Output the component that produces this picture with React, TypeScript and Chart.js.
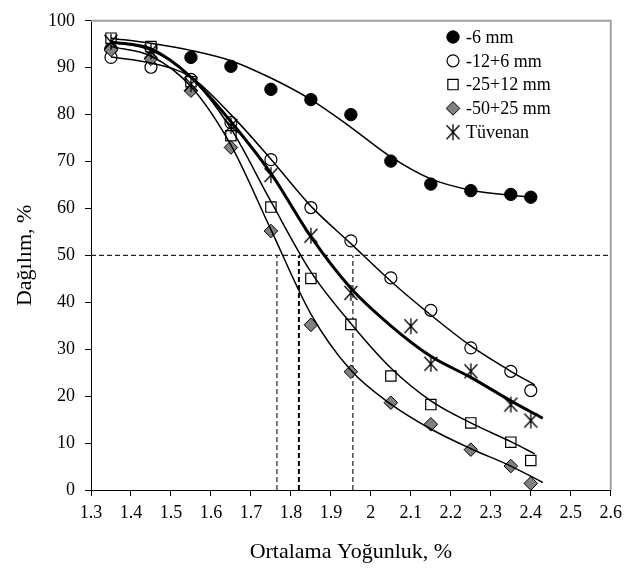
import React, { useEffect, useRef } from "react";
import { Chart, registerables } from "chart.js";

Chart.register(...registerables);

// ---- data ----
const SERIES_LABELS = ["-6 mm", "-12+6 mm", "-25+12 mm", "-50+25 mm", "Tüvenan"];

const X_SIZE = [1.35, 1.45, 1.55, 1.65, 1.75, 1.85, 1.95, 2.05, 2.15, 2.25, 2.35, 2.4];
const X_TUVENAN = [1.35, 1.45, 1.55, 1.65, 1.75, 1.85, 1.95, 2.1, 2.15, 2.25, 2.35, 2.4];

const MINUS6 = [94, 94.2, 92.2, 90.3, 85.4, 83.2, 80, 70.1, 65.2, 63.8, 63, 62.4];
const M12P6 = [92.2, 90.1, 87.5, 78.3, 70.4, 60.2, 53.1, 45.2, 38.3, 30.3, 25.3, 21.2];
const M25P12 = [96.3, 94.5, 87, 75.5, 60.3, 45.1, 35.3, 24.3, 18.2, 14.3, 10.2, 6.3];
const M50P25 = [93.8, 91.9, 85.1, 73, 55.2, 35.2, 25.2, 18.6, 14, 8.6, 5.1, 1.4];
const TUVENAN = [95.5, 93.5, 86.5, 77.6, 67.1, 54.2, 42, 34.9, 26.9, 25.3, 18.2, 14.8];

// fitted trend curves
const FIT_X_A = [1.35, 1.45, 1.55, 1.65, 1.75, 1.85, 1.95, 2.05, 2.15, 2.25, 2.35, 2.41];
const FIT_X_B = [1.35, 1.45, 1.55, 1.65, 1.75, 1.85, 1.95, 2.05, 2.15, 2.25, 2.35, 2.43];
const FIT_MINUS6 = [96.3, 95.2, 93.7, 91.5, 87.8, 83.2, 77.3, 71, 66.3, 63.9, 62.8, 62.3];
const FIT_M12P6 = [92.3, 91, 88, 80, 70.5, 60.5, 52.5, 44.5, 37.3, 30.7, 25.3, 22.4];
const FIT_M25P12 = [95.5, 93.7, 88, 77, 61.5, 46.5, 35.5, 26, 19, 14.3, 10.3, 7.7];
const FIT_M50P25 = [94.5, 92.5, 86, 73.5, 55.5, 37.5, 25.5, 18.3, 13, 8.8, 5.1, 1.6];
const FIT_TUVENAN = [95.5, 94, 88, 78.5, 67.5, 54, 43, 35, 28.5, 24, 19, 15.3];

// dashed reading lines
const REF_Y = 50;
const REF_X = [1.765, 1.82, 1.955];

const X_MIN = 1.3, X_MAX = 2.6, X_STEP = 0.1;
const Y_MIN = 0, Y_MAX = 100, Y_STEP = 10;

const SERIF = "'Liberation Serif', 'Times New Roman', serif";

function makeStar(): HTMLCanvasElement {
  const c = document.createElement("canvas");
  c.width = 18;
  c.height = 18;
  const g = c.getContext("2d")!;
  g.strokeStyle = "#000";
  g.lineWidth = 1.3;
  g.beginPath();
  g.moveTo(9, 1);
  g.lineTo(9, 17);
  g.moveTo(2.5, 2);
  g.lineTo(15.5, 16);
  g.moveTo(15.5, 2);
  g.lineTo(2.5, 16);
  g.stroke();
  return c;
}

const pts = (xs: number[], ys: number[]) => xs.map((x, i) => ({ x, y: ys[i] }));

export default function App() {
  const ref = useRef<HTMLCanvasElement | null>(null);

  useEffect(() => {
    if (!ref.current) return;
    const star = makeStar();

    const markerStyles = [
      { pointStyle: "circle", pointRadius: 6.2, pointBackgroundColor: "#000", pointBorderColor: "#000", pointBorderWidth: 1 },
      { pointStyle: "circle", pointRadius: 6, pointBackgroundColor: "#fff", pointBorderColor: "#000", pointBorderWidth: 1.2 },
      { pointStyle: "rect", pointRadius: 7.3, pointBackgroundColor: "#fff", pointBorderColor: "#000", pointBorderWidth: 1.2 },
      { pointStyle: "rectRot", pointRadius: 6.8, pointBackgroundColor: "#808080", pointBorderColor: "#000", pointBorderWidth: 1 },
      { pointStyle: star, pointRadius: 8, pointBackgroundColor: "#000", pointBorderColor: "#000", pointBorderWidth: 1 },
    ];

    const pointSets = [
      pts(X_SIZE, MINUS6),
      pts(X_SIZE, M12P6),
      pts(X_SIZE, M25P12),
      pts(X_SIZE, M50P25),
      pts(X_TUVENAN, TUVENAN),
    ];
    const fitSets = [
      pts(FIT_X_A, FIT_MINUS6),
      pts(FIT_X_A, FIT_M12P6),
      pts(FIT_X_A, FIT_M25P12),
      pts(FIT_X_B, FIT_M50P25),
      pts(FIT_X_B, FIT_TUVENAN),
    ];

    const datasets: any[] = [];
    // dashed reference lines
    datasets.push({
      label: "ref-h",
      data: [{ x: X_MIN, y: REF_Y }, { x: X_MAX, y: REF_Y }],
      showLine: true,
      borderColor: "#222",
      borderWidth: 1.2,
      borderDash: [5, 3],
      pointRadius: 0,
      order: 20,
    });
    REF_X.forEach((x, i) => {
      datasets.push({
        label: "ref-v" + i,
        data: [{ x, y: Y_MIN }, { x, y: REF_Y }],
        showLine: true,
        borderColor: i === 1 ? "#000" : "#333",
        borderWidth: i === 1 ? 2 : 1.3,
        borderDash: [5, 3],
        pointRadius: 0,
        order: 20,
      });
    });
    // markers (later series drawn on top)
    pointSets.forEach((d, i) => {
      datasets.push({
        label: SERIES_LABELS[i],
        data: d,
        showLine: false,
        order: 15 - i,
        legendMarker: i,
        ...markerStyles[i],
      });
    });
    // fitted curves (drawn over the markers)
    fitSets.forEach((d, i) => {
      datasets.push({
        label: "fit " + SERIES_LABELS[i],
        data: d,
        showLine: true,
        borderColor: "#000",
        borderWidth: i === 4 ? 3 : 1.5,
        tension: 0.4,
        cubicInterpolationMode: "monotone",
        pointRadius: 0,
        order: 1,
      });
    });

    const framePlugin = {
      id: "frame",
      beforeDatasetsDraw(chart: any) {
        const { ctx, chartArea: a } = chart;
        ctx.save();
        ctx.strokeStyle = "#a0a0a0";
        ctx.lineWidth = 2;
        ctx.beginPath();
        ctx.moveTo(a.left, a.top);
        ctx.lineTo(a.right, a.top);
        ctx.lineTo(a.right, a.bottom);
        ctx.stroke();
        ctx.restore();
      },
    };

    const drawMarker = (ctx: CanvasRenderingContext2D, i: number, x: number, y: number) => {
      const m: any = markerStyles[i];
      ctx.save();
      ctx.fillStyle = m.pointBackgroundColor;
      ctx.strokeStyle = m.pointBorderColor;
      ctx.lineWidth = m.pointBorderWidth;
      const r = m.pointRadius;
      ctx.beginPath();
      if (m.pointStyle === "circle") {
        ctx.arc(x, y, r, 0, Math.PI * 2);
        ctx.fill();
        ctx.stroke();
      } else if (m.pointStyle === "rect") {
        const s = Math.SQRT1_2 * r;
        ctx.rect(x - s, y - s, 2 * s, 2 * s);
        ctx.fill();
        ctx.stroke();
      } else if (m.pointStyle === "rectRot") {
        ctx.moveTo(x - r, y);
        ctx.lineTo(x, y - r);
        ctx.lineTo(x + r, y);
        ctx.lineTo(x, y + r);
        ctx.closePath();
        ctx.fill();
        ctx.stroke();
      } else {
        const img = m.pointStyle as HTMLCanvasElement;
        ctx.drawImage(img, x - img.width / 2, y - img.height / 2);
      }
      ctx.restore();
    };

    const legendPlugin = {
      id: "customLegend",
      afterDraw(chart: any) {
        const ctx = chart.ctx as CanvasRenderingContext2D;
        const items = chart.data.datasets.filter((d: any) => d.legendMarker !== undefined);
        const x0 = 453;
        const y0 = 37;
        const dy = 23.8;
        ctx.save();
        ctx.font = `18px ${SERIF}`;
        ctx.fillStyle = "#000";
        ctx.textBaseline = "middle";
        ctx.textAlign = "left";
        items.forEach((d: any, k: number) => {
          const y = y0 + k * dy;
          drawMarker(ctx, d.legendMarker, x0, y);
          ctx.fillStyle = "#000";
          ctx.fillText(d.label, x0 + 13, y + 1);
        });
        ctx.restore();
      },
    };

    const chart = new Chart(ref.current, {
      type: "scatter",
      data: { datasets },
      options: {
        animation: false,
        responsive: false,
        maintainAspectRatio: false,
        layout: { padding: { left: 0, right: 16, top: 13, bottom: 0 } },
        plugins: {
          legend: { display: false },
          tooltip: { enabled: false },
        },
        scales: {
          x: {
            type: "linear",
            min: X_MIN,
            max: X_MAX,
            afterFit: (s: any) => {
              s.height = 83;
            },
            ticks: {
              stepSize: X_STEP,
              autoSkip: false,
              maxRotation: 0,
              color: "#000",
              padding: 6,
              font: { family: SERIF, size: 18 },
              callback: (v: any) => String(Math.round(Number(v) * 10) / 10),
            },
            grid: { display: true, drawOnChartArea: false, drawTicks: true, tickLength: 6, color: "#000", lineWidth: 1 },
            border: { display: true, color: "#000", width: 1 },
            title: {
              display: true,
              text: "Ortalama Yoğunluk, %",
              color: "#000",
              font: { family: SERIF, size: 22 },
              padding: { top: 0, bottom: 8 },
            },
          },
          y: {
            type: "linear",
            min: Y_MIN,
            max: Y_MAX,
            afterFit: (s: any) => {
              s.width = 91;
            },
            ticks: {
              stepSize: Y_STEP,
              color: "#000",
              padding: 10,
              font: { family: SERIF, size: 18 },
            },
            grid: { display: true, drawOnChartArea: false, drawTicks: true, tickLength: 6, color: "#000", lineWidth: 1 },
            border: { display: true, color: "#000", width: 1 },
            title: {
              display: true,
              text: "Dağılım, %",
              color: "#000",
              font: { family: SERIF, size: 22 },
              padding: { top: 12, bottom: 0 },
            },
          },
        },
      },
      plugins: [framePlugin, legendPlugin],
    } as any);

    return () => chart.destroy();
  }, []);

  return (
    <div style={{ position: "fixed", left: 0, top: 0, width: 628, height: 573, background: "#fff" }}>
      <canvas ref={ref} width={628} height={573} style={{ width: 628, height: 573, display: "block" }} />
    </div>
  );
}
